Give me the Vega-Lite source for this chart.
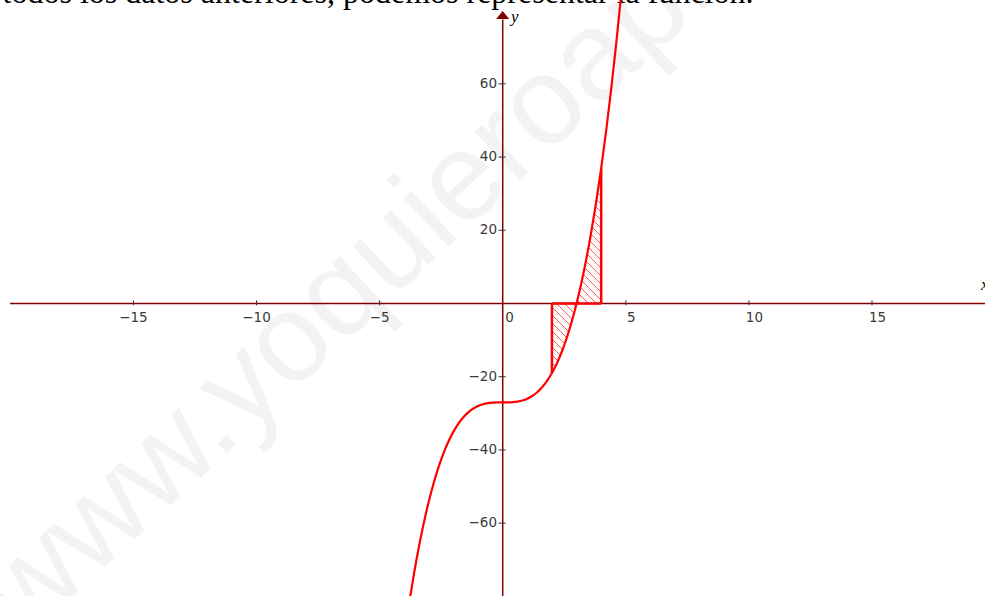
{
  "$schema": "https://vega.github.io/schema/vega-lite/v6.json",
  "width": 985,
  "height": 596,
  "autosize": {"type": "none"},
  "padding": 0,
  "background": "white",
  "config": {"view": {"stroke": null}},
  "datasets": {
    "curve": [
      {"x": -4.0, "y": -91}, {"x": -3.8, "y": -81.872}, {"x": -3.6, "y": -73.656}, {"x": -3.4, "y": -66.304},
      {"x": -3.2, "y": -59.768}, {"x": -3.0, "y": -54}, {"x": -2.8, "y": -48.952}, {"x": -2.6, "y": -44.576},
      {"x": -2.4, "y": -40.824}, {"x": -2.2, "y": -37.648}, {"x": -2.0, "y": -35}, {"x": -1.8, "y": -32.832},
      {"x": -1.6, "y": -31.096}, {"x": -1.4, "y": -29.744}, {"x": -1.2, "y": -28.728}, {"x": -1.0, "y": -28},
      {"x": -0.8, "y": -27.512}, {"x": -0.6, "y": -27.216}, {"x": -0.4, "y": -27.064}, {"x": -0.2, "y": -27.008},
      {"x": 0, "y": -27}, {"x": 0.2, "y": -26.992}, {"x": 0.4, "y": -26.936}, {"x": 0.6, "y": -26.784},
      {"x": 0.8, "y": -26.488}, {"x": 1.0, "y": -26}, {"x": 1.2, "y": -25.272}, {"x": 1.4, "y": -24.256},
      {"x": 1.6, "y": -22.904}, {"x": 1.8, "y": -21.168}, {"x": 2.0, "y": -19}, {"x": 2.2, "y": -16.352},
      {"x": 2.4, "y": -13.176}, {"x": 2.6, "y": -9.424}, {"x": 2.8, "y": -5.048}, {"x": 3.0, "y": 0},
      {"x": 3.2, "y": 5.768}, {"x": 3.4, "y": 12.304}, {"x": 3.6, "y": 19.656}, {"x": 3.8, "y": 27.872},
      {"x": 4.0, "y": 37}, {"x": 4.2, "y": 47.088}, {"x": 4.4, "y": 58.184}, {"x": 4.6, "y": 70.336},
      {"x": 4.8, "y": 83.592}, {"x": 5.0, "y": 98}
    ],
    "hatch": [
      {"x": 3.0311, "y": 0.849, "x2": 3.1573, "y2": 0},
      {"x": 3.0942, "y": 2.624, "x2": 3.4844, "y2": 0},
      {"x": 3.1544, "y": 4.387, "x2": 3.8067, "y2": 0},
      {"x": 3.2135, "y": 6.184, "x2": 4, "y2": 0.895},
      {"x": 3.2704, "y": 7.979, "x2": 4, "y2": 3.072},
      {"x": 3.326, "y": 9.793, "x2": 4, "y2": 5.26},
      {"x": 3.38, "y": 11.614, "x2": 4, "y2": 7.444},
      {"x": 3.4325, "y": 13.442, "x2": 4, "y2": 9.626},
      {"x": 3.484, "y": 15.29, "x2": 4, "y2": 11.82},
      {"x": 3.5338, "y": 17.129, "x2": 4, "y2": 13.994},
      {"x": 3.5829, "y": 18.995, "x2": 4, "y2": 16.19},
      {"x": 3.6305, "y": 20.852, "x2": 4, "y2": 18.367},
      {"x": 3.6773, "y": 22.727, "x2": 4, "y2": 20.557},
      {"x": 3.723, "y": 24.603, "x2": 4, "y2": 22.74},
      {"x": 3.7677, "y": 26.485, "x2": 4, "y2": 24.923},
      {"x": 3.8118, "y": 28.385, "x2": 4, "y2": 27.119},
      {"x": 3.8545, "y": 30.267, "x2": 4, "y2": 29.289},
      {"x": 3.8971, "y": 32.187, "x2": 4, "y2": 31.495},
      {"x": 3.9381, "y": 34.074, "x2": 4, "y2": 33.658},
      {"x": 3.9789, "y": 35.992, "x2": 4, "y2": 35.85},
      {"x": 2.8325, "y": 0, "x2": 2.9663, "y2": -0.9},
      {"x": 2.5103, "y": 0, "x2": 2.8997, "y2": -2.619},
      {"x": 2.1827, "y": 0, "x2": 2.8294, "y2": -4.349},
      {"x": 2, "y": -0.958, "x2": 2.7568, "y2": -6.048},
      {"x": 2, "y": -3.136, "x2": 2.6815, "y2": -7.719},
      {"x": 2, "y": -5.31, "x2": 2.6029, "y2": -9.365},
      {"x": 2, "y": -7.505, "x2": 2.5198, "y2": -11.001},
      {"x": 2, "y": -9.696, "x2": 2.4326, "y2": -12.605},
      {"x": 2, "y": -11.882, "x2": 2.3408, "y2": -14.174},
      {"x": 2, "y": -14.066, "x2": 2.2437, "y2": -15.705},
      {"x": 2, "y": -16.25, "x2": 2.1404, "y2": -17.194},
      {"x": 2, "y": -18.433, "x2": 2.03, "y2": -18.635}
    ],
    "bounds": [
      {"x": 2, "y": -19, "x2": 2, "y2": 0},
      {"x": 2, "y": 0, "x2": 4, "y2": 0},
      {"x": 4, "y": 0, "x2": 4, "y2": 37}
    ],
    "axes": [
      {"x": -20.01, "y": 0, "x2": 19.59, "y2": 0},
      {"x": 0, "y": -79.9, "x2": 0, "y2": 77.6}
    ],
    "xticks": [
      {"v": -15, "label": "−15"}, {"v": -10, "label": "−10"}, {"v": -5, "label": "−5"}
    ],
    "xticksPos": [
      {"v": 5, "label": "5"}, {"v": 10, "label": "10"}, {"v": 15, "label": "15"}
    ],
    "yticks": [
      {"v": 60, "label": "60"}, {"v": 40, "label": "40"}, {"v": 20, "label": "20"},
      {"v": -20, "label": "−20"}, {"v": -40, "label": "−40"}, {"v": -60, "label": "−60"}
    ]
  },
  "layer": [
    {
      "data": {"values": [{"x": -19.38, "y": -92.13, "t": "www.yoquieroaprobar.es"}]},
      "mark": {"type": "text", "angle": -43, "align": "left", "baseline": "alphabetic", "font": "Liberation Sans", "fontSize": 125, "color": "#f3f3f3"},
      "encoding": {
        "x": {"field": "x", "type": "quantitative", "scale": {"domain": [-20.42, 19.59], "nice": false, "zero": false}, "axis": null},
        "y": {"field": "y", "type": "quantitative", "scale": {"domain": [-79.9, 82.9], "nice": false, "zero": false}, "axis": null},
        "text": {"field": "t"}
      }
    },
    {
      "data": {"values": [{"x": -5.065, "y": 82.2, "t": "todos los datos anteriores, podemos representar la función."}]},
      "mark": {"type": "text", "align": "center", "baseline": "alphabetic", "font": "Liberation Serif", "fontSize": 32, "color": "#000000"},
      "encoding": {
        "x": {"field": "x", "type": "quantitative", "scale": {"domain": [-20.42, 19.59], "nice": false, "zero": false}, "axis": null},
        "y": {"field": "y", "type": "quantitative", "scale": {"domain": [-79.9, 82.9], "nice": false, "zero": false}, "axis": null},
        "text": {"field": "t"}
      }
    },
    {
      "data": {"name": "axes"},
      "mark": {"type": "rule", "color": "#800000", "strokeWidth": 1.5},
      "encoding": {
        "x": {"field": "x", "type": "quantitative", "scale": {"domain": [-20.42, 19.59], "nice": false, "zero": false}, "axis": null},
        "y": {"field": "y", "type": "quantitative", "scale": {"domain": [-79.9, 82.9], "nice": false, "zero": false}, "axis": null},
        "x2": {"field": "x2"},
        "y2": {"field": "y2"}
      }
    },
    {
      "data": {"values": [{"x": 0, "y": 78.8}]},
      "mark": {"type": "point", "shape": "M-1,0.62L0,-0.62L1,0.62Z", "size": 169, "filled": true, "color": "#800000", "opacity": 1},
      "encoding": {
        "x": {"field": "x", "type": "quantitative", "scale": {"domain": [-20.42, 19.59], "nice": false, "zero": false}, "axis": null},
        "y": {"field": "y", "type": "quantitative", "scale": {"domain": [-79.9, 82.9], "nice": false, "zero": false}, "axis": null}
      }
    },
    {
      "data": {"values": [{"v": -15}, {"v": -10}, {"v": -5}, {"v": 5}, {"v": 10}, {"v": 15}]},
      "mark": {"type": "rule", "color": "#333333", "strokeWidth": 1},
      "encoding": {
        "x": {"field": "v", "type": "quantitative", "scale": {"domain": [-20.42, 19.59], "nice": false, "zero": false}, "axis": null},
        "y": {"datum": 0.85, "type": "quantitative", "scale": {"domain": [-79.9, 82.9], "nice": false, "zero": false}, "axis": null},
        "y2": {"datum": -0.5}
      }
    },
    {
      "data": {"name": "yticks"},
      "mark": {"type": "rule", "color": "#333333", "strokeWidth": 1},
      "encoding": {
        "y": {"field": "v", "type": "quantitative", "scale": {"domain": [-79.9, 82.9], "nice": false, "zero": false}, "axis": null},
        "x": {"datum": -0.17, "type": "quantitative", "scale": {"domain": [-20.42, 19.59], "nice": false, "zero": false}, "axis": null},
        "x2": {"datum": 0.12}
      }
    },
    {
      "data": {"name": "xticks"},
      "mark": {"type": "text", "align": "center", "baseline": "middle", "font": "DejaVu Sans", "fontSize": 13.5, "color": "#3a3a3a"},
      "encoding": {
        "x": {"field": "v", "type": "quantitative", "scale": {"domain": [-20.42, 19.59], "nice": false, "zero": false}, "axis": null},
        "y": {"datum": -3.9, "type": "quantitative", "scale": {"domain": [-79.9, 82.9], "nice": false, "zero": false}, "axis": null},
        "text": {"field": "label"}
      }
    },
    {
      "data": {"name": "xticksPos"},
      "mark": {"type": "text", "align": "center", "baseline": "middle", "font": "DejaVu Sans", "fontSize": 13.5, "color": "#3a3a3a", "dx": 5.5},
      "encoding": {
        "x": {"field": "v", "type": "quantitative", "scale": {"domain": [-20.42, 19.59], "nice": false, "zero": false}, "axis": null},
        "y": {"datum": -3.9, "type": "quantitative", "scale": {"domain": [-79.9, 82.9], "nice": false, "zero": false}, "axis": null},
        "text": {"field": "label"}
      }
    },
    {
      "data": {"values": [{"v": 0.276, "label": "0"}]},
      "mark": {"type": "text", "align": "center", "baseline": "middle", "font": "DejaVu Sans", "fontSize": 13.5, "color": "#3a3a3a"},
      "encoding": {
        "x": {"field": "v", "type": "quantitative", "scale": {"domain": [-20.42, 19.59], "nice": false, "zero": false}, "axis": null},
        "y": {"datum": -3.9, "type": "quantitative", "scale": {"domain": [-79.9, 82.9], "nice": false, "zero": false}, "axis": null},
        "text": {"field": "label"}
      }
    },
    {
      "data": {"name": "yticks"},
      "mark": {"type": "text", "align": "right", "baseline": "middle", "font": "DejaVu Sans", "fontSize": 13.5, "color": "#3a3a3a"},
      "encoding": {
        "y": {"field": "v", "type": "quantitative", "scale": {"domain": [-79.9, 82.9], "nice": false, "zero": false}, "axis": null},
        "x": {"datum": -0.23, "type": "quantitative", "scale": {"domain": [-20.42, 19.59], "nice": false, "zero": false}, "axis": null},
        "text": {"field": "label"}
      }
    },
    {
      "data": {"values": [{"x": 0.34, "y": 76.9, "t": "y"}, {"x": 19.43, "y": 3.69, "t": "x"}]},
      "mark": {"type": "text", "align": "left", "baseline": "alphabetic", "font": "Liberation Serif", "fontStyle": "italic", "fontSize": 17, "color": "#000000"},
      "encoding": {
        "x": {"field": "x", "type": "quantitative", "scale": {"domain": [-20.42, 19.59], "nice": false, "zero": false}, "axis": null},
        "y": {"field": "y", "type": "quantitative", "scale": {"domain": [-79.9, 82.9], "nice": false, "zero": false}, "axis": null},
        "text": {"field": "t"}
      }
    },
    {
      "data": {"name": "hatch"},
      "mark": {"type": "rule", "color": "#ff0000", "strokeWidth": 0.8, "opacity": 0.85},
      "encoding": {
        "x": {"field": "x", "type": "quantitative", "scale": {"domain": [-20.42, 19.59], "nice": false, "zero": false}, "axis": null},
        "y": {"field": "y", "type": "quantitative", "scale": {"domain": [-79.9, 82.9], "nice": false, "zero": false}, "axis": null},
        "x2": {"field": "x2"},
        "y2": {"field": "y2"}
      }
    },
    {
      "data": {"name": "bounds"},
      "mark": {"type": "rule", "color": "#ff0000", "strokeWidth": 2.5},
      "encoding": {
        "x": {"field": "x", "type": "quantitative", "scale": {"domain": [-20.42, 19.59], "nice": false, "zero": false}, "axis": null},
        "y": {"field": "y", "type": "quantitative", "scale": {"domain": [-79.9, 82.9], "nice": false, "zero": false}, "axis": null},
        "x2": {"field": "x2"},
        "y2": {"field": "y2"}
      }
    },
    {
      "data": {"name": "curve"},
      "mark": {"type": "line", "color": "#ff0000", "strokeWidth": 2.2, "interpolate": "monotone", "clip": true},
      "encoding": {
        "x": {"field": "x", "type": "quantitative", "scale": {"domain": [-20.42, 19.59], "nice": false, "zero": false}, "axis": null},
        "y": {"field": "y", "type": "quantitative", "scale": {"domain": [-79.9, 82.9], "nice": false, "zero": false}, "axis": null},
        "order": {"field": "x", "type": "quantitative"}
      }
    }
  ]
}
